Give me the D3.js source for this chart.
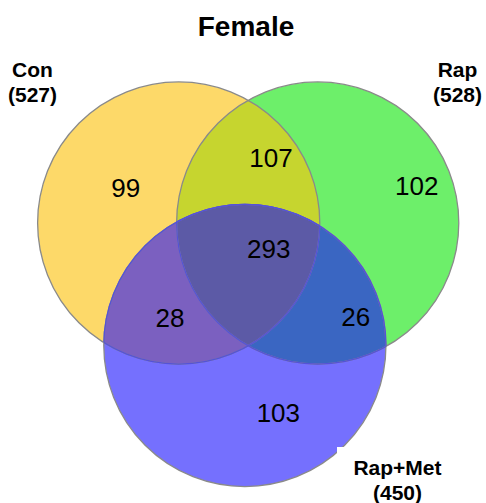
<!DOCTYPE html>
<html><head><meta charset="utf-8">
<script src="https://cdn.jsdelivr.net/npm/d3@7"></script>
<style>html,body{margin:0;padding:0;background:#fff;}svg{display:block;}</style>
</head><body>
<svg id="chart" width="486" height="503"></svg>
<script>
const title = "Female";
const sets = ["Con", "Rap", "Rap+Met"];
const setTotals = [527, 528, 450];
const regionKeys = ["C", "R", "M", "CR", "CM", "RM", "CRM"];
const regionCounts = [99, 102, 103, 107, 28, 26, 293];

// layout (unit space)
const circleUnits = [[-0.5, 0], [0.5, 0], [-0.024, 0.881]];
const radiusUnit = 1.015;
const regionUnits = {C:[-0.881,-0.189], R:[1.212,-0.198], M:[0.217,1.429], CR:[0.164,-0.403], CM:[-0.563,0.746], RM:[0.773,0.739], CRM:[0.148,0.254]};
const setLabelPos = [[32.5, 77], [457.5, 77], [397.5, 475]];

const colors = {C:"#fdd969", R:"#6def6a", M:"#7570fe", CR:"#c6d52f", CM:"#7b60c0", RM:"#3a66c2", CRM:"#5c5aa6"};

const svg = d3.select("#chart");
const x = d3.scaleLinear().domain([0, 1]).range([248.2, 387.2]);
const y = d3.scaleLinear().domain([0, 1]).range([223, 362]);
const r = radiusUnit * (x(1) - x(0));
const circles = circleUnits.map(([u, v]) => ({cx: x(u), cy: y(v)}));

const defs = svg.append("defs");
["C","R","M"].forEach((k, i) => {
  defs.append("clipPath").attr("id", "clip" + k)
    .append("circle").attr("cx", circles[i].cx).attr("cy", circles[i].cy).attr("r", r);
});

const g = svg.append("g");
["C","R","M"].forEach((k, i) => {
  g.append("circle").attr("cx", circles[i].cx).attr("cy", circles[i].cy).attr("r", r).attr("fill", colors[k]);
});
function clipped(parentClips, idx, color) {
  let sel = g;
  parentClips.forEach(c => { sel = sel.append("g").attr("clip-path", "url(#clip" + c + ")"); });
  sel.append("circle").attr("cx", circles[idx].cx).attr("cy", circles[idx].cy).attr("r", r).attr("fill", color);
}
clipped(["C"], 1, colors.CR);
clipped(["C"], 2, colors.CM);
clipped(["R"], 2, colors.RM);
clipped(["C","R"], 2, colors.CRM);

["C","R","M"].forEach((k, i) => {
  g.append("circle").attr("cx", circles[i].cx).attr("cy", circles[i].cy).attr("r", r)
    .attr("fill", "none").attr("stroke", "#8a8a8a").attr("stroke-width", 1.3);
});
const gm = g.append("g").attr("clip-path", "url(#clipM)");
[0, 1].forEach(i => {
  gm.append("circle").attr("cx", circles[i].cx).attr("cy", circles[i].cy).attr("r", r)
    .attr("fill", "none").attr("stroke", "#5552d8").attr("stroke-width", 1.3);
});
[["C"],["R"]].forEach(c => {
  g.append("g").attr("clip-path", "url(#clip" + c[0] + ")")
    .append("circle").attr("cx", circles[2].cx).attr("cy", circles[2].cy).attr("r", r)
    .attr("fill", "none").attr("stroke", "#5552d8").attr("stroke-width", 1.3);
});

svg.append("rect").attr("x", 337).attr("y", 447).attr("width", 149).attr("height", 56).attr("fill", "#fff");

regionKeys.forEach((k, i) => {
  const [u, v] = regionUnits[k];
  svg.append("text").attr("x", x(u)).attr("y", y(v))
    .attr("text-anchor", "middle")
    .attr("font-family", "Liberation Sans, Arial, sans-serif")
    .attr("font-size", 26).attr("fill", "#000")
    .text(regionCounts[i]);
});

svg.append("text").attr("x", 246).attr("y", 36).attr("text-anchor", "middle")
  .attr("font-family", "Liberation Sans, Arial, sans-serif").attr("font-weight", "bold")
  .attr("font-size", 28).text(title);

sets.forEach((s, i) => {
  const t = svg.append("text").attr("text-anchor", "middle")
    .attr("font-family", "Liberation Sans, Arial, sans-serif").attr("font-weight", "bold")
    .attr("font-size", 21);
  t.append("tspan").attr("x", setLabelPos[i][0]).attr("y", setLabelPos[i][1]).text(s);
  t.append("tspan").attr("x", setLabelPos[i][0]).attr("y", setLabelPos[i][1] + 24.5).text("(" + setTotals[i] + ")");
});
</script>
</body></html>
